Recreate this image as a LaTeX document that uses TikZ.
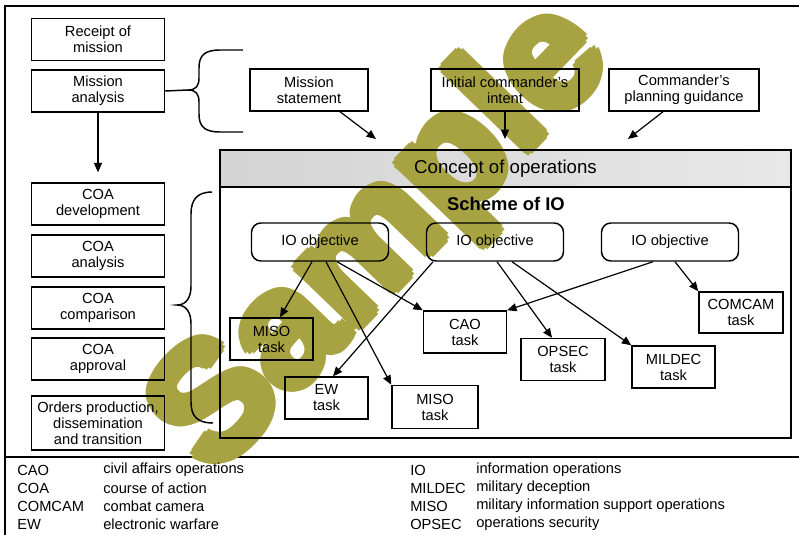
\documentclass[tikz,border=0pt]{standalone}
\usepackage{fontspec}
\setmainfont{Liberation Sans}
\newfontfamily\wmfont{Liberation Sans Bold}
\usetikzlibrary{arrows.meta,calc}
\definecolor{wmolive}{RGB}{168,163,66}

\begin{document}
\begin{tikzpicture}[x=0.75pt,y=-0.75pt,
  txt/.style={font=\fontsize{11}{12}\selectfont},
  box/.style 2 args={draw, line width=1.1pt, minimum width=#1*0.75pt,
    minimum height=#2*0.75pt, inner sep=0pt, align=center, txt},
  objective/.style={box={137}{38}, rounded corners=7pt},
  task/.style={box={83}{42}},
  arr/.style={-{Triangle[length=7pt,width=6pt]}, line width=0.9pt},
  leg/.style={anchor=west, inner sep=0pt, txt},
  frame/.style={line width=1.6pt},
  stampstyle/.style={rotate=46, text=wmolive, inner sep=0pt,
    font=\wmfont\fontsize{122}{122}\selectfont}
]
\useasboundingbox (0,0) rectangle (799,535);

% outer frame and legend separator
\draw[frame] (5,535) -- (5,6) -- (799,6);
\draw[frame] (5,457) -- (799,457);

% shaded band of the concept of operations box
\shade[left color=black!17, right color=black!9] (220,150) rectangle (791,187);

% overprinted stamp, thickened by repeated offset copies
\coordinate (stampc) at (384,240);
\foreach \ang [count=\k] in {0,45,...,315} {
  \node[stampstyle] (stamp\k) at ($(stampc)+(\ang:5.5)$) {Sample};
}
\node[stampstyle] (stamp) at (stampc) {Sample};

% planning steps (left column)
\node[box={133}{42}] (receipt)   at (98,39.5) {Receipt of\\mission};
\node[box={133}{42}] (manalysis) at (98,91)   {Mission\\analysis};
\node[box={133}{42}] (coadev)    at (98,204)  {COA\\development};
\node[box={133}{42}] (coaana)    at (98,256)  {COA\\analysis};
\node[box={133}{42}] (coacomp)   at (98,308)  {COA\\comparison};
\node[box={133}{42}] (coaappr)   at (98,359)  {COA\\approval};
\node[box={133}{54}] (orders)    at (98,423)  {Orders production,\\dissemination\\and transition};

\coordinate (devtop) at ($(coadev.north)+(0,-10)$);
\draw[arr] (manalysis.south) -- (devtop);

% mission analysis products
\node[box={118}{42}] (mstate)   at (309,90) {Mission\\statement};
\node[box={148}{42}] (intent)   at (505,90) {Initial commander's\\intent};
\node[box={150}{42}] (guidance) at (684,90) {Commander's\\planning guidance};

% brace joining mission analysis to its products
\coordinate (btip) at (188,90);
\draw[line width=1.1pt] (243,50) -- (220,50) .. controls (204,50) and (199,56) .. (199,68)
  -- (199,78) .. controls (199,86) and (196,90) .. (btip)
  .. controls (196,90) and (199,94) .. (199,102) -- (199,114)
  .. controls (199,126) and (204,132) .. (220,132) -- (243,132);
\draw[line width=1.1pt] (manalysis.east) -- (btip);

% brace across the COA steps
\draw[line width=1.1pt] (212,192) .. controls (197,192) and (191,200) .. (191,214)
  -- (191,286) .. controls (191,298) and (186,305) .. (177,305)
  .. controls (186,305) and (191,312) .. (191,324) -- (191,402)
  .. controls (191,416) and (197,423) .. (213,423);

% concept of operations
\node[box={571}{288}] (conops) at (505.5,294) {};
\node[draw, line width=1.1pt, minimum width=571*0.75pt, minimum height=37*0.75pt,
  inner sep=0pt, font=\fontsize{14}{16}\selectfont] (header) at (505.5,168.5) {Concept of operations};
\node[font=\fontsize{13.8}{16}\selectfont\bfseries, inner sep=0pt] (scheme) at (506,204) {Scheme of IO};

\coordinate (c1) at (376,139);
\coordinate (c2) at (505,139);
\coordinate (c3) at (628,139);
\draw[arr] ($(mstate.south)+(31,0)$) -- (c1);
\draw[arr] (intent.south) -- (c2);
\draw[arr] ($(guidance.south)+(-21,0)$) -- (c3);

% IO objectives
\node[objective] (obj1) at (320,242) {IO objective};
\node[objective] (obj2) at (495,242) {IO objective};
\node[objective] (obj3) at (670,242) {IO objective};

% tasks
\node[task] (miso1)  at (271.5,339) {MISO\\task};
\node[task] (ew)     at (326.5,398) {EW\\task};
\node[box={86}{43}] (miso2) at (435,407) {MISO\\task};
\node[task] (cao)    at (465,332) {CAO\\task};
\node[box={84}{42}] (opsec) at (563,359.5) {OPSEC\\task};
\node[task] (mildec) at (673.5,367) {MILDEC\\task};
\node[box={84}{41}] (comcam) at (741,312.5) {COMCAM\\task};

\draw[arr] ($(obj1.south)+(-8,0)$) -- ($(miso1.north)+(8.5,0)$);
\draw[arr] ($(obj1.south)+(17,0)$) -- (cao.north west);
\draw[arr] ($(obj1.south)+(6,0)$) -- (miso2.north west);
\draw[arr] ($(obj2.south)+(-62,0)$) -- ($(ew.north)+(6.5,0)$);
\draw[arr] ($(obj2.south)+(2,0)$) -- ($(opsec.north)+(-11,0)$);
\draw[arr] ($(obj2.south)+(17,0)$) -- (mildec.north west);
\draw[arr] ($(obj3.south)+(-17,0)$) -- (cao.north east);
\draw[arr] ($(obj3.south)+(5,0)$) -- (comcam.north west);

% abbreviations
\node[leg] (a1) at (17,470) {CAO};
\node[leg] (d1) at (103,470) {civil affairs operations};
\node[leg] (a2) at (17,488) {COA};
\node[leg] (d2) at (103,488) {course of action};
\node[leg] (a3) at (17,506) {COMCAM};
\node[leg] (d3) at (103,506) {combat camera};
\node[leg] (a4) at (17,524) {EW};
\node[leg] (d4) at (103,524) {electronic warfare};
\node[leg] (a5) at (410,470) {IO};
\node[leg] (d5) at (476,470) {information operations};
\node[leg] (a6) at (410,488) {MILDEC};
\node[leg] (d6) at (476,488) {military deception};
\node[leg] (a7) at (410,506) {MISO};
\node[leg] (d7) at (476,506) {military information support operations};
\node[leg] (a8) at (410,524) {OPSEC};
\node[leg] (d8) at (476,524) {operations security};
\end{tikzpicture}
\end{document}
